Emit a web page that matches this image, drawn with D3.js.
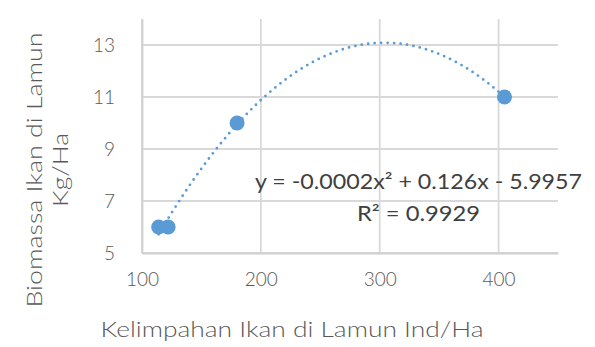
<!DOCTYPE html>
<html>
<head>
<meta charset="utf-8">
<script src="https://cdn.jsdelivr.net/npm/d3@7"></script>
<style>
  body { margin: 0; background: #fff; }
  text { font-family: "Lato", "DejaVu Sans", sans-serif; fill: #595959; }
</style>
</head>
<body>
<div id="chart"></div>
<script>
var xValues = [114, 122, 180, 405];
var yValues = [6, 6, 10, 11];
var xTicks = [100, 200, 300, 400];
var yTicks = [5, 7, 9, 11, 13];
var eqLabel = "y = -0.0002x\u00b2 + 0.126x - 5.9957";
var r2Label = "R\u00b2 = 0.9929";

var W = 595, H = 347;
var margin = { top: 19, right: 37, bottom: 94, left: 142 },
  width = W - margin.left - margin.right,
  height = H - margin.top - margin.bottom;

var svg = d3.select("#chart").append("svg")
  .attr("width", W).attr("height", H);
var g = svg.append("g").attr("transform", "translate(" + margin.left + "," + margin.top + ")");

var x = d3.scaleLinear().domain([100, 450]).range([0, width]);
var y = d3.scaleLinear().domain([5, 14]).range([height, 0]);

// gridlines
g.selectAll(".hgrid").data(yTicks).enter().append("line")
  .attr("x1", 0).attr("x2", width)
  .attr("y1", function (d) { return y(d); }).attr("y2", function (d) { return y(d); })
  .attr("stroke", "#d9d9d9").attr("stroke-width", 1.8);
g.selectAll(".vgrid").data(xTicks).enter().append("line")
  .attr("x1", function (d) { return x(d); }).attr("x2", function (d) { return x(d); })
  .attr("y1", 0).attr("y2", height)
  .attr("stroke", "#d9d9d9").attr("stroke-width", 1.8);

// axes
var xAxis = d3.axisBottom(x).tickValues(xTicks).tickSize(0).tickPadding(20);
var yAxis = d3.axisLeft(y).tickValues(yTicks).tickSize(0).tickPadding(27);
var gx = g.append("g").attr("transform", "translate(0," + height + ")").call(xAxis);
var gy = g.append("g").call(yAxis);
gx.select(".domain").attr("stroke", "#d0d0d0").attr("stroke-width", 1.8);
gy.select(".domain").attr("stroke", "#d0d0d0").attr("stroke-width", 1.8);
svg.selectAll(".tick text").attr("font-size", 19).attr("font-weight", 300)
  .attr("fill", "#595959").attr("font-family", "Lato, sans-serif");

// polynomial (order 2) least squares fit from the data
function fitQuad(xs, ys) {
  var S = [[0, 0, 0], [0, 0, 0], [0, 0, 0]], T = [0, 0, 0];
  for (var i = 0; i < xs.length; i++) {
    var p = [1, xs[i], xs[i] * xs[i]];
    for (var r = 0; r < 3; r++) {
      T[r] += p[r] * ys[i];
      for (var c = 0; c < 3; c++) S[r][c] += p[r] * p[c];
    }
  }
  // gaussian elimination
  for (var k = 0; k < 3; k++) {
    for (var r2 = k + 1; r2 < 3; r2++) {
      var f = S[r2][k] / S[k][k];
      for (var c2 = k; c2 < 3; c2++) S[r2][c2] -= f * S[k][c2];
      T[r2] -= f * T[k];
    }
  }
  var b = [0, 0, 0];
  for (var k2 = 2; k2 >= 0; k2--) {
    var s = T[k2];
    for (var c3 = k2 + 1; c3 < 3; c3++) s -= S[k2][c3] * b[c3];
    b[k2] = s / S[k2][k2];
  }
  return b;
}
var coef = fitQuad(xValues, yValues);
var xs = d3.range(d3.min(xValues), d3.max(xValues) + 0.5, 1);
var trend = xs.map(function (v) { return [v, coef[0] + coef[1] * v + coef[2] * v * v]; });

g.append("path").datum(trend)
  .attr("d", d3.line().x(function (d) { return x(d[0]); }).y(function (d) { return y(d[1]); }))
  .attr("fill", "none").attr("stroke", "#5b9bd5").attr("stroke-width", 2.8)
  .attr("stroke-linecap", "round").attr("stroke-dasharray", "0,6.5");

g.selectAll(".dot").data(xValues).enter().append("circle")
  .attr("cx", function (d) { return x(d); })
  .attr("cy", function (d, i) { return y(yValues[i]); })
  .attr("r", 7.5).attr("fill", "#5b9bd5");

// trendline label
svg.append("text").attr("x", 255).attr("y", 189)
  .attr("font-family", "Open Sans, sans-serif")
  .attr("font-size", 21).style("fill", "#404040")
  .attr("textLength", 327).attr("lengthAdjust", "spacingAndGlyphs")
  .text(eqLabel);
svg.append("text").attr("x", 357).attr("y", 221)
  .attr("font-family", "Open Sans, sans-serif")
  .attr("font-size", 21).style("fill", "#404040")
  .attr("textLength", 123).attr("lengthAdjust", "spacingAndGlyphs")
  .text(r2Label);

// axis titles
svg.append("text").attr("x", 292).attr("y", 337).attr("text-anchor", "middle")
  .attr("font-size", 21).attr("font-weight", 300)
  .attr("textLength", 383).attr("lengthAdjust", "spacingAndGlyphs")
  .text("Kelimpahan Ikan di Lamun Ind/Ha");
var yt = svg.append("text").attr("transform", "translate(0,170) rotate(-90)")
  .attr("text-anchor", "middle").attr("font-size", 21).attr("font-weight", 300);
yt.append("tspan").attr("x", 0).attr("y", 42)
  .attr("textLength", 275).attr("lengthAdjust", "spacingAndGlyphs")
  .text("Biomassa Ikan di Lamun");
yt.append("tspan").attr("x", 0).attr("y", 68)
  .attr("textLength", 74).attr("lengthAdjust", "spacingAndGlyphs")
  .text("Kg/Ha");
</script>
</body>
</html>
